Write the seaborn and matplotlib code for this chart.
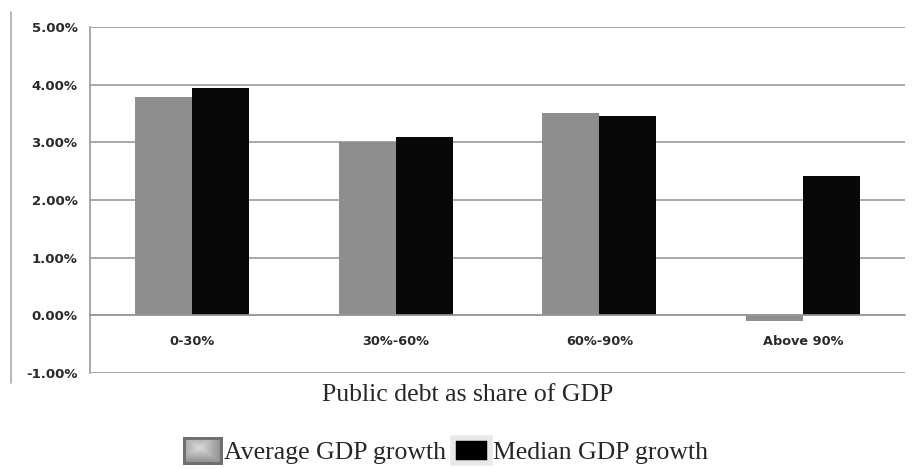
import matplotlib
matplotlib.use("Agg")
import matplotlib.pyplot as plt
import matplotlib.lines as mlines
import matplotlib.patches as mpatches
import numpy as np
import seaborn as sns
import pandas as pd
from matplotlib.ticker import PercentFormatter, FixedLocator

categories = ["0-30%", "30%-60%", "60%-90%", "Above 90%"]
average_growth = [3.78, 3.00, 3.51, -0.09]
median_growth = [3.95, 3.10, 3.45, 2.41]
series_names = ["Average GDP growth", "Median GDP growth"]
y_ticks = [-1, 0, 1, 2, 3, 4, 5]
x_title = "Public debt as share of GDP"

df = pd.DataFrame({
    "category": categories * 2,
    "value": average_growth + median_growth,
    "series": [series_names[0]] * 4 + [series_names[1]] * 4,
})

sns.set_style("white")
plt.rcParams["axes.unicode_minus"] = False
fig = plt.figure(figsize=(9.14, 4.69), dpi=100)
ax = fig.add_axes([90 / 914, 1 - 373 / 469, (905 - 90) / 914, (373 - 27) / 469])

palette = {series_names[0]: "#8e8e8e", series_names[1]: "#080808"}
sns.barplot(data=df, x="category", y="value", hue="series", order=categories,
            hue_order=series_names, palette=palette, width=0.56, ax=ax,
            legend=False, saturation=1, edgecolor="none")

ax.set_ylim(-1, 5)
ax.set_xlim(-0.5, 3.5)
ax.yaxis.set_major_locator(FixedLocator(y_ticks))
ax.yaxis.set_major_formatter(PercentFormatter(decimals=2))
ax.yaxis.grid(True, color="#9a9a9a", linewidth=1.2)
ax.set_axisbelow(True)
ax.set_xlabel("")
ax.set_ylabel("")

for s in ["top", "right"]:
    ax.spines[s].set_visible(False)
ax.spines["left"].set_color("#9a9a9a")
ax.spines["left"].set_linewidth(1.2)
ax.spines["bottom"].set_position(("data", 0))
ax.spines["bottom"].set_color("#9a9a9a")
ax.spines["bottom"].set_linewidth(1.2)

ax.tick_params(axis="y", length=5, color="#9a9a9a", labelsize=9.5, pad=4)
ax.tick_params(axis="x", which="major", length=0, labelsize=9.3, pad=14)
ax.set_xticks([0.5, 1.5, 2.5, 3.5], minor=True)
ax.tick_params(axis="x", which="minor", length=5, color="#9a9a9a", direction="out")
for lbl in ax.get_yticklabels() + ax.get_xticklabels():
    lbl.set_fontweight("bold")
    lbl.set_color("#2a2a2a")

# left frame line of original chart
fig.add_artist(mlines.Line2D([11 / 914, 11 / 914], [1 - 12 / 469, 1 - 383 / 469],
                             color="#aaaaaa", linewidth=1.2))

fig.text(468 / 914, 1 - 395 / 469, x_title,
         ha="center", va="center", fontsize=18.5, family="Liberation Serif")

handles = [mpatches.Patch(facecolor="#b0b0b0", edgecolor="#7a7a7a", linewidth=2),
           mpatches.Patch(facecolor="#000000", edgecolor="#e8e8e8", linewidth=4)]
leg = fig.legend(handles, series_names, loc="center", bbox_to_anchor=(446 / 914, 1 - 451 / 469),
                 ncol=2, frameon=False, prop={"family": "Liberation Serif", "size": 18.5},
                 handlelength=1.45, handleheight=1.15, handletextpad=0.12, columnspacing=0.25,
                 borderaxespad=0, borderpad=0)

# beveled gradient fill for the grey legend key
fig.canvas.draw()
bb = leg.legend_handles[0].get_window_extent().transformed(fig.transFigure.inverted())
gax = fig.add_axes([bb.x0, bb.y0, bb.width, bb.height])
gax.set_zorder(10)
yy, xx = np.mgrid[0:1:40j, 0:1:50j]
grad = 0.86 - 0.30 * np.clip(np.maximum(np.abs(xx - 0.4), np.abs(yy - 0.4)) * 1.7, 0, 1)
gax.imshow(grad, cmap="gray", vmin=0, vmax=1, aspect="auto", interpolation="bilinear")
gax.set_xticks([])
gax.set_yticks([])
for sp in gax.spines.values():
    sp.set_color("#6e6e6e")
    sp.set_linewidth(2)

fig.savefig("out.png", dpi=100)
